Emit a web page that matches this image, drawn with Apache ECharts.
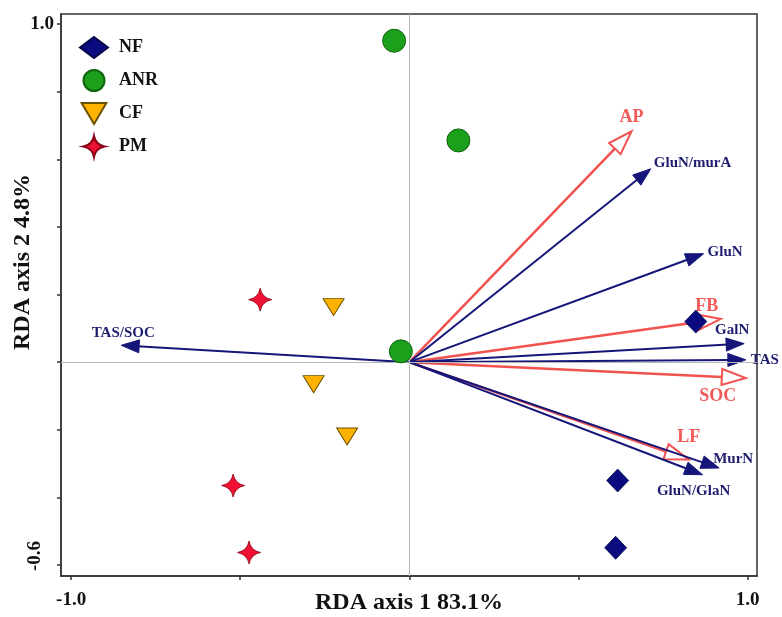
<!DOCTYPE html>
<html>
<head>
<meta charset="utf-8">
<script src="https://cdn.jsdelivr.net/npm/echarts@6/dist/echarts.min.js"></script>
<style>html,body{margin:0;padding:0;background:#fff}#c{width:782px;height:617px}</style>
</head>
<body>
<div id="c"></div>
<script>
// ---- data ----
const groups = ['NF', 'ANR', 'CF', 'PM'];
const nfPoints  = [[0.847, 0.120], [0.616, -0.350], [0.610, -0.549]];
const anrPoints = [[-0.045, 0.951], [0.145, 0.656], [-0.025, 0.032]];
const cfPoints  = [[-0.224, 0.163], [-0.283, -0.065], [-0.184, -0.220]];
const pmPoints  = [[-0.441, 0.185], [-0.521, -0.365], [-0.474, -0.563]];

const blueVarNames = ['GluN/murA', 'GluN', 'GalN', 'TAS', 'MurN', 'GluN/GlaN', 'TAS/SOC'];
const blueVarX = [0.714, 0.870, 0.990, 0.995, 0.916, 0.867, -0.852];
const blueVarY = [0.572, 0.321, 0.055, 0.007, -0.313, -0.333, 0.050];
const redVarNames = ['AP', 'FB', 'SOC', 'LF'];
const redVarX = [0.657, 0.921, 0.995, 0.826];
const redVarY = [0.683, 0.128, -0.047, -0.288];

const xTicks = [-1.0, -0.5, 0, 0.5, 1.0];
const xTickLabels = [-1.0, 1.0];
const yTicks = [-0.6, -0.4, -0.2, 0, 0.2, 0.4, 0.6, 0.8, 1.0];
const yTickLabelTop = [1.0];
const yTickLabelBottom = [-0.6];

// ---- styling ----
const FONT = '"Liberation Serif", "Times New Roman", serif';
const BLUE = '#16167a';
const RED = '#f0524f';
const labelPlacement = {
  'GluN/murA': { dx: 3, dy: -6, align: 'left' },
  'GluN': { dx: 4, dy: -2, align: 'left' },
  'GalN': { dx: -12, dy: -13, align: 'center' },
  'TAS': { dx: 5, dy: 0, align: 'left' },
  'MurN': { dx: 14, dy: -9, align: 'center' },
  'GluN/GlaN': { dx: -9, dy: 16, align: 'center' },
  'TAS/SOC': { dx: 2, dy: -12, align: 'center' },
  'AP': { dx: 0, dy: -14, align: 'center' },
  'FB': { dx: -14, dy: -13, align: 'center' },
  'SOC': { dx: -28, dy: 18, align: 'center' },
  'LF': { dx: 0, dy: -22, align: 'center' }
};

function arrowSeries(names, xs, ys, opt) {
  return {
    type: 'custom',
    coordinateSystem: 'cartesian2d',
    z: 3,
    silent: true,
    clip: false,
    data: names.map((n, i) => ({ name: n, value: [xs[i], ys[i]] })),
    renderItem: function (params, api) {
      const name = names[params.dataIndex];
      const o = api.coord([0, 0]);
      const t = api.coord([api.value(0), api.value(1)]);
      const dx = t[0] - o[0], dy = t[1] - o[1];
      const L = Math.sqrt(dx * dx + dy * dy);
      const ux = dx / L, uy = dy / L;
      const bx = t[0] - ux * opt.headLen, by = t[1] - uy * opt.headLen;
      const px = -uy, py = ux;
      const p1 = [bx + px * opt.headW / 2, by + py * opt.headW / 2];
      const p2 = [bx - px * opt.headW / 2, by - py * opt.headW / 2];
      const endX = opt.open ? bx : bx + ux * 2, endY = opt.open ? by : by + uy * 2;
      const lp = labelPlacement[name];
      return {
        type: 'group',
        children: [
          { type: 'line', shape: { x1: o[0], y1: o[1], x2: endX, y2: endY },
            style: { stroke: opt.color, lineWidth: opt.lineWidth } },
          { type: 'polygon', shape: { points: [t, p1, p2] },
            style: { fill: opt.open ? '#ffffff' : opt.color, stroke: opt.color, lineWidth: opt.open ? 2 : 1 } },
          { type: 'text', x: t[0] + lp.dx, y: t[1] + lp.dy,
            style: { text: name, fill: opt.labelColor, font: 'bold ' + opt.fontSize + 'px ' + FONT,
                     align: lp.align, textAlign: lp.align, verticalAlign: 'middle', textVerticalAlign: 'middle' } }
        ]
      };
    }
  };
}

const starPath = 'path://M10,0 Q11.6,8.4 20,10 Q11.6,11.6 10,20 Q8.4,11.6 0,10 Q8.4,8.4 10,0 Z';
const triPath = 'path://M0,0 L20,0 L10,17 Z';

const chart = echarts.init(document.getElementById('c'), null, { renderer: 'canvas' });
const axisTextStyle = { fontFamily: FONT, fontWeight: 'bold', fontSize: 19, color: '#111' };

chart.setOption({
  animation: false,
  backgroundColor: '#fff',
  grid: { left: 61, right: 25, top: 14, bottom: 41, show: true, borderColor: '#333', borderWidth: 1.5,
          containLabel: false, outerBoundsMode: 'none' },
  legend: {
    data: groups,
    orient: 'vertical',
    left: 79, top: 36,
    itemWidth: 28, itemHeight: 21, itemGap: 10,
    padding: 0,
    textStyle: { fontFamily: FONT, fontWeight: 'bold', fontSize: 18, color: '#111', padding: [0, 0, 0, 6] },
    selectedMode: false
  },
  xAxis: [{
    type: 'value', position: 'bottom',
    min: -1.03, max: 1.028,
    axisLine: { show: true, onZero: false, lineStyle: { color: '#333', width: 1.5 } },
    axisTick: { show: true, customValues: xTicks, length: 4, lineStyle: { color: '#333', width: 1.5 } },
    axisLabel: { customValues: xTickLabels, formatter: v => Number(v).toFixed(1), margin: 15, ...axisTextStyle },
    splitLine: { show: false },
    name: 'RDA axis 1 83.1%', nameLocation: 'middle', nameGap: 15, nameMoveOverlap: false,
    nameTextStyle: { fontFamily: FONT, fontWeight: 'bold', fontSize: 24, color: '#111' }
  }],
  yAxis: [{
    type: 'value', position: 'left',
    min: -0.6325, max: 1.03,
    axisLine: { show: true, onZero: false, lineStyle: { color: '#333', width: 1.5 } },
    axisTick: { show: true, customValues: yTicks, length: 4, lineStyle: { color: '#333', width: 1.5 } },
    axisLabel: { customValues: yTickLabelTop, formatter: v => Number(v).toFixed(1), margin: 7, ...axisTextStyle },
    splitLine: { show: false },
    name: 'RDA axis 2 4.8%', nameLocation: 'middle', nameGap: 26, nameMoveOverlap: false,
    nameTextStyle: { fontFamily: FONT, fontWeight: 'bold', fontSize: 24, color: '#111', padding: [0, 0, 0, 66] }
  }, {
    type: 'value', position: 'left',
    min: -0.6325, max: 1.03,
    axisLine: { show: false, onZero: false },
    axisTick: { show: false },
    axisLabel: { customValues: yTickLabelBottom, formatter: v => Number(v).toFixed(1), rotate: 90, margin: 16,
                 padding: [0, 0, 0, 18], ...axisTextStyle },
    splitLine: { show: false }
  }],
  series: [
    {
      type: 'line', data: [], z: 1, silent: true,
      markLine: {
        silent: true, symbol: ['none', 'none'], label: { show: false },
        lineStyle: { color: '#b8b8b8', width: 1, type: 'solid' },
        data: [{ xAxis: 0 }, { yAxis: 0 }]
      }
    },
    arrowSeries(redVarNames, redVarX, redVarY,
      { color: RED, labelColor: '#f05a58', open: true, headLen: 24, headW: 16, lineWidth: 2.5, fontSize: 18 }),
    arrowSeries(blueVarNames, blueVarX, blueVarY,
      { color: BLUE, labelColor: '#1e1e6e', open: false, headLen: 18, headW: 13, lineWidth: 2, fontSize: 15 }),
    { name: 'NF', type: 'scatter', data: nfPoints, symbol: 'diamond', symbolSize: [22, 23], z: 5,
      itemStyle: { color: '#0b0b80', borderColor: '#06064a', borderWidth: 0.8, opacity: 1 } },
    { name: 'ANR', type: 'scatter', data: anrPoints, symbol: 'circle', symbolSize: 23, z: 5,
      itemStyle: { color: '#1ca01c', borderColor: '#0c640c', borderWidth: 1, opacity: 1 } },
    { name: 'CF', type: 'scatter', data: cfPoints, symbol: triPath, symbolSize: [21, 17], z: 5,
      itemStyle: { color: '#ffb300', borderColor: '#6b5200', borderWidth: 1, opacity: 1 } },
    { name: 'PM', type: 'scatter', data: pmPoints, symbol: starPath, symbolSize: [23, 23], z: 5,
      itemStyle: { color: '#ee1133', borderColor: '#8a0014', borderWidth: 0.8, opacity: 1 } }
  ]
});
</script>
</body>
</html>
